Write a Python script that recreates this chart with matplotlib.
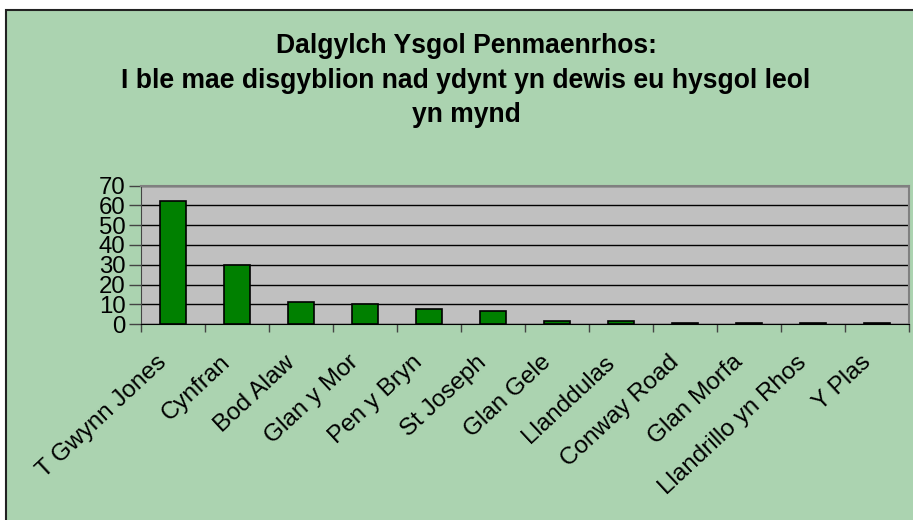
import matplotlib
matplotlib.use("Agg")
import matplotlib.pyplot as plt
from matplotlib.patches import Rectangle
from matplotlib.transforms import ScaledTranslation

schools = ["T Gwynn Jones", "Cynfran", "Bod Alaw", "Glan y Mor", "Pen y Bryn",
           "St Joseph", "Glan Gele", "Llanddulas", "Conway Road", "Glan Morfa",
           "Llandrillo yn Rhos", "Y Plas"]
pupils = [62, 30, 11, 10, 7.5, 6.5, 1.5, 1.5, 0.7, 0.7, 0.7, 0.7]
yticks = [0, 10, 20, 30, 40, 50, 60, 70]
title_lines = ["Dalgylch Ysgol Penmaenrhos:",
               "I ble mae disgyblion nad ydynt yn dewis eu hysgol leol",
               "yn mynd"]

plt.rcParams['font.family'] = ['Liberation Sans', 'DejaVu Sans']

W, H = 913, 520
fig = plt.figure(figsize=(W / 100, H / 100), dpi=100)
fig.patch.set_facecolor('white')

# chart area frame
bg = Rectangle((6 / W, -0.2), 2.0, 1.2 - 10 / H, transform=fig.transFigure,
               facecolor='#abd3b0', edgecolor='#222222', linewidth=1.5,
               clip_on=False, zorder=-10)
fig.patches.append(bg)

ax = fig.add_axes([141 / W, (H - 324.3) / H, (909 - 141) / W, (324.3 - 185.5) / H])
ax.set_zorder(1)
ax.set_facecolor('#c0c0c0')
x = list(range(len(schools)))
ax.bar(x, pupils, width=0.4, color='#008000', edgecolor='black', linewidth=1.2, zorder=3)
ax.set_xlim(-0.5, len(schools) - 0.5)
ax.set_ylim(0, 70)
ax.set_yticks(yticks)
ax.set_yticklabels([str(t) for t in yticks], fontsize=17.3,
                   family=['Liberation Sans Narrow', 'Liberation Sans'])
ax.yaxis.grid(True, color='black', linewidth=1.0, zorder=1)
ax.set_axisbelow(True)

ax.set_xticks([i - 0.5 for i in range(len(schools) + 1)])
ax.set_xticklabels([''] * (len(schools) + 1))

# category labels, rotated, anchored below each category centre
lab_tr = ax.get_xaxis_transform() + ScaledTranslation(-17 / 100, -27 / 100, fig.dpi_scale_trans)
for xi, name in zip(x, schools):
    ax.text(xi, 0, name, transform=lab_tr, rotation=43, ha='right', va='top',
            rotation_mode='anchor', fontsize=17.5, clip_on=False)

ax.tick_params(axis='x', length=6, width=1, color='#444444', direction='out')
ax.tick_params(axis='y', length=9, width=1, color='#444444', direction='out', pad=2)

for s in ['top', 'right']:
    ax.spines[s].set_color('#808080')
    ax.spines[s].set_linewidth(1.5)
ax.spines['left'].set_color('#444444')
ax.spines['bottom'].set_color('black')

ys = [53, 88, 122]
for line, yy in zip(title_lines, ys):
    fig.text(466 / W, 1 - yy / H, line, ha='center', va='baseline',
             fontsize=19.1, fontweight='bold')

fig.savefig('out.png', dpi=100)
